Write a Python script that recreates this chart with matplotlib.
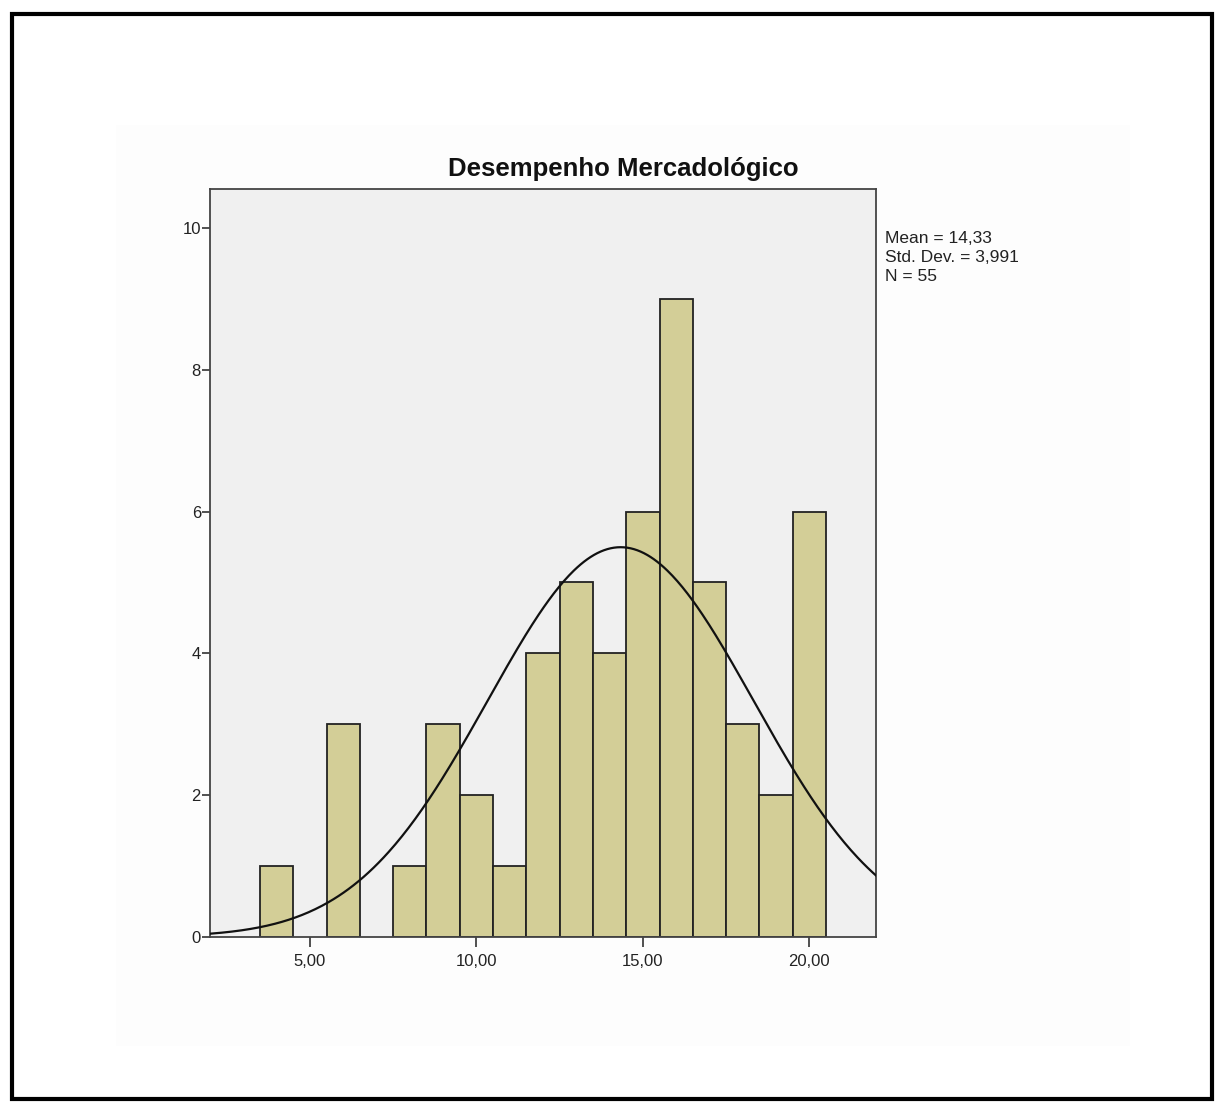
import numpy as np
import matplotlib
matplotlib.use("Agg")
import matplotlib.pyplot as plt
from matplotlib.patches import Rectangle

plt.rcParams['font.family'] = ['Liberation Sans', 'DejaVu Sans']

# Data
bin_centers = [4, 5, 6, 7, 8, 9, 10, 11, 12, 13, 14, 15, 16, 17, 18, 19, 20]
counts = [1, 0, 3, 0, 1, 3, 2, 1, 4, 5, 4, 6, 9, 5, 3, 2, 6]
mean_val = 14.33
std_val = 3.991
n_val = 55
title = "Desempenho Mercadológico"
xticks = [5, 10, 15, 20]
xtick_labels = ["5,00", "10,00", "15,00", "20,00"]
yticks = [0, 2, 4, 6, 8, 10]


def comma(v, d):
    return f"{v:.{d}f}".replace(".", ",")


W, H = 1226, 1113
fig = plt.figure(figsize=(W / 100, H / 100), dpi=100)
fig.patch.set_facecolor("white")

# faint background panel
bg = Rectangle((116 / W, 1 - 1046 / H), (1130 - 116) / W, (1046 - 125) / H,
               transform=fig.transFigure, facecolor="#FDFDFD", edgecolor="none", zorder=-5)
fig.add_artist(bg)
# outer border
border = Rectangle((12 / W, 1 - 1099 / H), (1212 - 12) / W, (1099 - 14) / H,
                   transform=fig.transFigure, facecolor="none", edgecolor="black", linewidth=3, zorder=5)
fig.add_artist(border)

left, right, top, bottom = 210, 876, 189, 937
ax = fig.add_axes([left / W, 1 - bottom / H, (right - left) / W, (bottom - top) / H])
ax.set_zorder(1)
ax.set_facecolor("#F0F0F0")

nz = [(c, v) for c, v in zip(bin_centers, counts) if v > 0]
ax.bar([c for c, v in nz], [v for c, v in nz], width=1.0, color="#D3CE97",
       edgecolor="#222222", linewidth=1.3, zorder=2)

x = np.linspace(2, 22, 400)
y = n_val * 1.0 / (std_val * np.sqrt(2 * np.pi)) * np.exp(-0.5 * ((x - mean_val) / std_val) ** 2)
ax.plot(x, y, color="#111111", linewidth=1.6, zorder=3)

ax.set_xlim(2, 22)
ax.set_ylim(0, 10.55)
ax.set_xticks(xticks)
ax.set_xticklabels(xtick_labels)
ax.set_yticks(yticks)
ax.tick_params(axis="both", direction="out", length=6, width=1.2, color="#333333",
               labelsize=12, labelcolor="#222222")
ax.tick_params(axis="x", pad=5, length=7)
ax.tick_params(axis="y", pad=0.5)
for s in ax.spines.values():
    s.set_color("#444444")
    s.set_linewidth(1.3)

fig.text(623 / W, 1 - 176 / H, title, fontsize=18.5, fontweight="bold", color="#111111",
         ha="center", va="baseline")

fig.text(885 / W, 1 - 231 / H,
         f"Mean = {comma(mean_val, 2)}\nStd. Dev. = {comma(std_val, 3)}\nN = {n_val}",
         fontsize=12.5, color="#222222", va="top", ha="left", linespacing=1.35)

fig.savefig("out.png", dpi=100)
